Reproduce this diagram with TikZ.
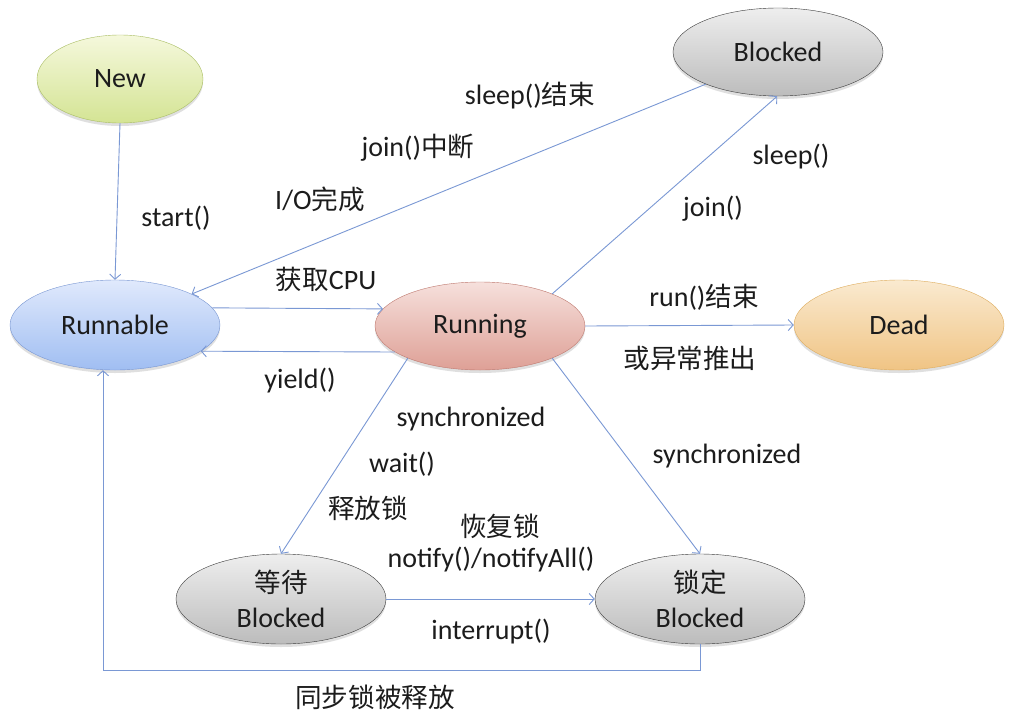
\documentclass[tikz,border=0pt]{standalone}
\usepackage{fontspec}
\setmainfont{Carlito}
\newfontfamily\cjk[Scale=0.95]{Noto Sans CJK SC}
\usetikzlibrary{shapes.geometric,arrows.meta,shadows}
\definecolor{linkblue}{RGB}{122,152,212}
\definecolor{txtgray}{RGB}{28,28,28}
\begin{document}
\begin{tikzpicture}[x=1pt,y=-1pt,
    state/.style={ellipse,draw,minimum width=210pt,minimum height=90pt,inner sep=0pt,
      align=center,text=txtgray,font=\fontsize{28}{35}\selectfont,
      drop shadow={opacity=0.25,shadow xshift=0pt,shadow yshift=-3pt}},
    link/.style={draw=linkblue,line width=0.9pt,-{Straight Barb[length=5pt,width=11pt]}},
    lbl/.style={inner sep=0pt,text=txtgray,font=\fontsize{28}{32}\selectfont}]
  \useasboundingbox[fill=white] (0,0) rectangle (1011,712);
  % states
  \node[state,minimum width=166pt,minimum height=88pt,draw={rgb,255:red,170;green,190;blue,100},top color={rgb,255:red,245;green,248;blue,220},bottom color={rgb,255:red,212;green,228;blue,148}] (new) at (120,79) {New};
  \node[state,draw={rgb,255:red,120;green,150;blue,210},top color={rgb,255:red,224;green,233;blue,252},bottom color={rgb,255:red,160;green,190;blue,242}] (runnable) at (115,325) {Runnable};
  \node[state,minimum height=88pt,draw={rgb,255:red,190;green,120;blue,110},top color={rgb,255:red,246;green,224;blue,220},bottom color={rgb,255:red,222;green,160;blue,150}] (running) at (480,326) {Running};
  \node[state,minimum height=88pt,draw={rgb,255:red,60;green,60;blue,60},top color={rgb,255:red,238;green,238;blue,238},bottom color={rgb,255:red,188;green,188;blue,188}] (blocked) at (778,52) {Blocked};
  \node[state,draw={rgb,255:red,222;green,172;blue,92},top color={rgb,255:red,250;green,234;blue,208},bottom color={rgb,255:red,240;green,196;blue,132}] (dead) at (899,325) {Dead};
  \node[state,draw={rgb,255:red,60;green,60;blue,60},top color={rgb,255:red,238;green,238;blue,238},bottom color={rgb,255:red,188;green,188;blue,188}] (waiting) at (281,599) {{\cjk 等待}\\Blocked};
  \node[state,draw={rgb,255:red,60;green,60;blue,60},top color={rgb,255:red,238;green,238;blue,238},bottom color={rgb,255:red,188;green,188;blue,188}] (locked) at (700,599) {{\cjk 锁定}\\Blocked};
  % transitions
  \draw[link] (new.south) -- (runnable.north);
  \draw[link] (runnable.10) -- (running.170);
  \draw[link] (running.197) -- (runnable.343);
  \draw[link] (blocked.204) -- (runnable.22);
  \draw[link] (running.24) -- (blocked.269);
  \draw[link] (running.east) -- (dead.west);
  \draw[link] (running.204) -- (waiting.north);
  \draw[link] (running.336) -- (locked.north);
  \draw[link] (waiting.east) -- (locked.west);
  \coordinate (corner) at (103,670);
  \draw[link] (locked.south) |- (corner) -- (corner |- runnable.south);
  % labels
  \node[lbl] (lstart) at (176,218) {start()};
  \node[lbl] (lsleepend) at (530,96) {sleep()\cjk 结束};
  \node[lbl] (ljoinint) at (418,148) {join()\cjk 中断};
  \node[lbl] (lio) at (320,199) {I/O\cjk 完成};
  \node[lbl] (lcpu) at (326,279) {\cjk 获取\rmfamily CPU};
  \node[lbl] (lyield) at (300,381) {yield()};
  \node[lbl] (lsleep) at (791,157) {sleep()};
  \node[lbl] (ljoin) at (713,209) {join()};
  \node[lbl] (lrunend) at (704,297) {run()\cjk 结束};
  \node[lbl] (lexc) at (690,358) {\cjk 或异常推出};
  \node[lbl] (lsync) at (471,419) {synchronized};
  \node[lbl] (lwait) at (402,464) {wait()};
  \node[lbl] (lrelease) at (368,508) {\cjk 释放锁};
  \node[lbl] (lresume) at (500,526) {\cjk 恢复锁};
  \node[lbl] (lnotify) at (491,560) {notify()/notifyAll()};
  \node[lbl] (linterrupt) at (491,632) {interrupt()};
  \node[lbl] (lsyncr) at (727,456) {synchronized};
  \node[lbl] (lsynclock) at (375,697) {\cjk 同步锁被释放};
\end{tikzpicture}
\end{document}
